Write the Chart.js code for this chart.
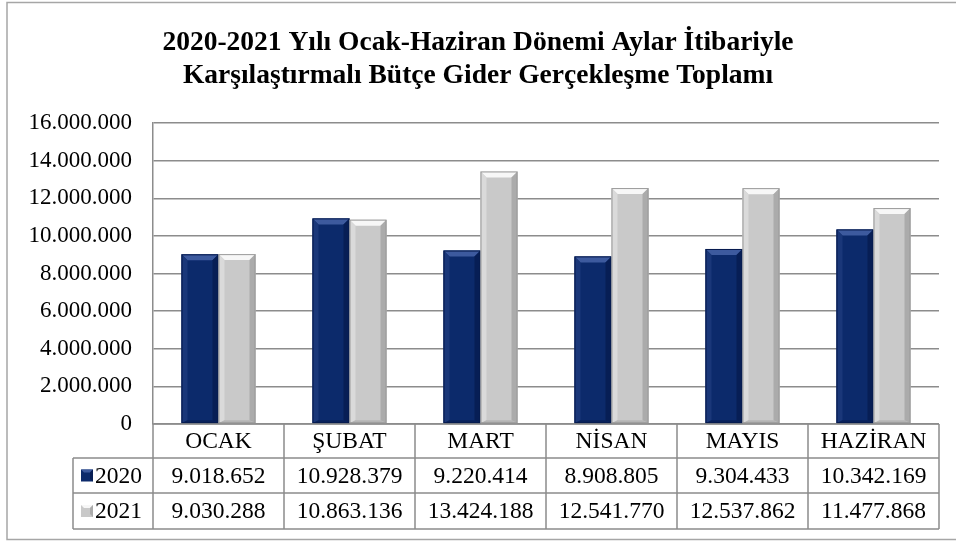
<!DOCTYPE html>
<html>
<head>
<meta charset="utf-8">
<script src="https://cdn.jsdelivr.net/npm/chart.js@4.4.0/dist/chart.umd.min.js"></script>
<style>
html,body{margin:0;padding:0;background:#fff;}
#wrap{width:956px;height:545px;position:relative;}
</style>
</head>
<body>
<div id="wrap"><canvas id="c" width="956" height="545"></canvas></div>
<script>
const titleLines = ['2020-2021 Yılı Ocak-Haziran Dönemi Aylar İtibariyle', 'Karşılaştırmalı Bütçe Gider Gerçekleşme Toplamı'];
const categories = ['OCAK', 'ŞUBAT', 'MART', 'NİSAN', 'MAYIS', 'HAZİRAN'];
const seriesNames = ['2020', '2021'];
const values2020 = [9018652, 10928379, 9220414, 8908805, 9304433, 10342169];
const values2021 = [9030288, 10863136, 13424188, 12541770, 12537862, 11477868];
const yMin = 0, yMax = 16000000, yStep = 2000000;

const FONT = "'Liberation Serif', 'Times New Roman', serif";
const GRID = '#8c8c8c';
const faceColors = ['#0c2a6b', '#c9c9c9'];
const bevel = [
  {top:'#3d5a9e', left:'#1a3779', right:'#071e55', bottom:'#08205a', edge:'#061a4c'},
  {top:'#f7f7f7', left:'#dadada', right:'#ababab', bottom:'#b4b4b4', edge:'#9a9a9a'}
];

function fmt(v){
  return String(Math.round(v)).replace(/\B(?=(\d{3})+(?!\d))/g, '.');
}

const bevelPlugin = {
  id: 'bevel',
  afterDatasetsDraw(chart){
    const ctx = chart.ctx;
    chart.data.datasets.forEach((ds, di) => {
      const meta = chart.getDatasetMeta(di);
      const b = bevel[di];
      meta.data.forEach(el => {
        const p = el.getProps(['x','y','width','base'], true);
        const l = p.x - p.width/2, r = p.x + p.width/2, t = p.y, bt = p.base;
        const s = Math.min(6, p.width/4);
        const sb = 3;
        ctx.save();
        ctx.fillStyle = b.top;
        ctx.beginPath(); ctx.moveTo(l,t); ctx.lineTo(r,t); ctx.lineTo(r-s,t+s); ctx.lineTo(l+s,t+s); ctx.closePath(); ctx.fill();
        ctx.fillStyle = b.left;
        ctx.beginPath(); ctx.moveTo(l,t); ctx.lineTo(l+s,t+s); ctx.lineTo(l+s,bt-sb); ctx.lineTo(l,bt); ctx.closePath(); ctx.fill();
        ctx.fillStyle = b.right;
        ctx.beginPath(); ctx.moveTo(r,t); ctx.lineTo(r-s,t+s); ctx.lineTo(r-s,bt-sb); ctx.lineTo(r,bt); ctx.closePath(); ctx.fill();
        ctx.fillStyle = b.bottom;
        ctx.beginPath(); ctx.moveTo(l,bt); ctx.lineTo(l+s,bt-sb); ctx.lineTo(r-s,bt-sb); ctx.lineTo(r,bt); ctx.closePath(); ctx.fill();
        ctx.strokeStyle = b.edge; ctx.lineWidth = 1;
        ctx.strokeRect(l+0.5, t+0.5, p.width-1, bt-t-1);
        ctx.restore();
      });
    });
  }
};

const framePlugin = {
  id: 'frame',
  beforeDraw(chart){
    const ctx = chart.ctx;
    ctx.save();
    ctx.fillStyle = '#fff';
    ctx.fillRect(0,0,chart.width,chart.height);
    ctx.strokeStyle = '#a6a6a6'; ctx.lineWidth = 1.5;
    ctx.strokeRect(7, 2.5, chart.width + 10, 537);
    ctx.restore();
  }
};

const tablePlugin = {
  id: 'dataTable',
  afterDraw(chart){
    const ctx = chart.ctx;
    const xs = chart.scales.x;
    const area = chart.chartArea;
    const n = categories.length;
    const w = (area.right - area.left) / n;
    const rowH = 35;
    const top = area.bottom;
    const rows = [top, top + rowH - 1, top + 2*rowH - 1, top + 3*rowH];
    const legendLeft = 73;
    ctx.save();
    ctx.strokeStyle = GRID; ctx.lineWidth = 1.5;
    ctx.beginPath();
    ctx.moveTo(area.left, rows[0]); ctx.lineTo(area.right, rows[0]);
    for (let i = 1; i < rows.length; i++){ ctx.moveTo(legendLeft, rows[i]); ctx.lineTo(area.right, rows[i]); }
    for (let i = 0; i <= n; i++){
      const x = area.left + i*w;
      ctx.moveTo(x, rows[0]); ctx.lineTo(x, rows[3]);
    }
    ctx.moveTo(legendLeft, rows[1]); ctx.lineTo(legendLeft, rows[3]);
    ctx.stroke();
    ctx.fillStyle = '#000';
    ctx.font = '23.5px ' + FONT;
    ctx.textAlign = 'center'; ctx.textBaseline = 'middle';
    const series = [values2020, values2021];
    categories.forEach((c, i) => {
      const cx = xs.getPixelForValue(i);
      ctx.fillText(c, cx, (rows[0]+rows[1])/2 + 1);
      ctx.fillText(fmt(series[0][i]), cx, (rows[1]+rows[2])/2 + 1);
      ctx.fillText(fmt(series[1][i]), cx, (rows[2]+rows[3])/2 + 1);
    });
    for (let k = 0; k < 2; k++){
      const cy = (rows[k+1]+rows[k+2])/2;
      const mx = legendLeft + 8, ms = 12;
      const b = bevel[k];
      ctx.fillStyle = faceColors[k];
      ctx.fillRect(mx, cy - ms/2, ms, ms);
      ctx.fillStyle = b.top;
      ctx.beginPath(); ctx.moveTo(mx, cy-ms/2); ctx.lineTo(mx+ms, cy-ms/2); ctx.lineTo(mx+ms-3, cy-ms/2+3); ctx.lineTo(mx+3, cy-ms/2+3); ctx.closePath(); ctx.fill();
      ctx.fillStyle = b.right;
      ctx.beginPath(); ctx.moveTo(mx+ms, cy-ms/2); ctx.lineTo(mx+ms, cy+ms/2); ctx.lineTo(mx+ms-3, cy+ms/2-3); ctx.lineTo(mx+ms-3, cy-ms/2+3); ctx.closePath(); ctx.fill();
      ctx.fillStyle = '#000';
      ctx.textAlign = 'left';
      ctx.fillText(seriesNames[k], mx + ms + 2, cy + 1);
    }
    ctx.restore();
  }
};

new Chart(document.getElementById('c'), {
  type: 'bar',
  data: {
    labels: categories,
    datasets: [
      {label: seriesNames[0], data: values2020, backgroundColor: faceColors[0], borderWidth: 0},
      {label: seriesNames[1], data: values2021, backgroundColor: faceColors[1], borderWidth: 0}
    ]
  },
  options: {
    responsive: false,
    animation: false,
    devicePixelRatio: 1,
    layout: {padding: {left: 17, right: 17, top: 0, bottom: 121}},
    datasets: {bar: {categoryPercentage: 0.565, barPercentage: 1.0}},
    plugins: {
      legend: {display: false},
      tooltip: {enabled: false},
      title: {
        display: true,
        text: titleLines,
        color: '#000',
        font: {family: FONT, size: 27.5, weight: 'bold', lineHeight: 1.2},
        padding: {top: 26, bottom: 31}
      }
    },
    scales: {
      x: {display: false, grid: {display: false}},
      y: {
        min: yMin, max: yMax,
        afterFit(scale){ scale.width = 136; },
        border: {display: true, color: GRID, width: 1.5},
        grid: {color: GRID, lineWidth: 1.5, drawTicks: false},
        ticks: {
          stepSize: yStep,
          padding: 21,
          color: '#000',
          font: {family: FONT, size: 23},
          callback: v => fmt(v)
        }
      }
    }
  },
  plugins: [framePlugin, bevelPlugin, tablePlugin]
});
</script>
</body>
</html>
